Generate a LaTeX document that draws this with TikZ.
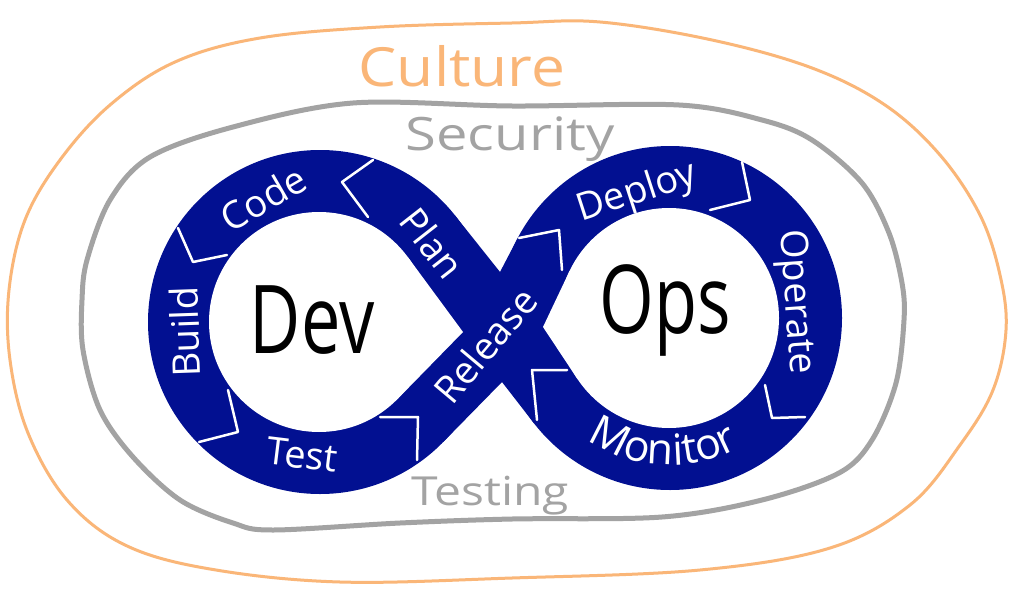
\documentclass[tikz,border=0pt]{standalone}
\usepackage{fontspec}
\setmainfont{Open Sans}
\usetikzlibrary{decorations.text}
\definecolor{devblue}{RGB}{2,16,145}
\definecolor{cultorange}{RGB}{250,182,120}
\definecolor{secgray}{RGB}{163,163,163}
\begin{document}
\begin{tikzpicture}[x=1pt,y=-1pt,
  bandfill/.style={fill=devblue},
  holefill/.style={fill=white},
  chev/.style={draw=white, line width=2.5pt, line join=round, line cap=round},
  lbl/.style={text=white, font=\fontsize{38}{40}\selectfont, inner sep=0pt},
  big/.style={text=black, font=\fontsize{95}{100}\selectfont, inner sep=0pt, xscale=0.74},
  culturering/.style={draw=cultorange, line width=3pt},
  grayring/.style={draw=secgray, line width=5pt},
  ringtext/.style={inner sep=0pt, anchor=base}]
\useasboundingbox (0,0) rectangle (1024,599);
\fill[white] (0,0) rectangle (1024,599);

% outer culture loop
\draw[culturering] plot[smooth cycle, tension=0.6] coordinates {
 (512,23) (600,22) (712,40) (812,68) (885,105) (940,155) (980,215) (1000,275)
 (1006,330) (993,390) (960,445) (910,505) (830,548) (700,570) (512,578)
 (340,582) (210,569) (125,545) (67,500) (28,433) (10,360) (9,290) (25,220)
 (60,160) (110,105) (175,62) (260,38) (380,27)};

% security / testing loop
\draw[grayring] plot[smooth cycle, tension=0.55] coordinates {
 (512,106) (679,105) (762,120) (812,140) (862,183) (889,233) (902,283) (904,320)
 (896,383) (872,440) (839,473) (762,500) (662,517) (512,519) (400,523) (273,530)
 (233,523) (180,500) (133,457) (100,410) (83,350) (82,300) (87,260) (110,200)
 (150,157) (233,127) (353,103)};

% infinity band
\fill[bandfill] (320,322) circle[radius=172];
\fill[bandfill] (670,318) circle[radius=172];
\fill[bandfill] (500,272) -- (454.6,215.0) -- (320,322) -- (442.9,442.3) -- (502,382)
  -- (534.1,423.4) -- (670,318) -- (517.5,238.5) -- cycle;

% inner holes
\fill[holefill] (319,322) circle[radius=110];
\fill[holefill] (407.6,256.8) -- (463,332) -- (397.7,398.8) -- (319,322) -- cycle;
\fill[holefill] (669,318) circle[radius=110];
\fill[holefill] (569.6,270.9) -- (543,327) -- (577.3,378.8) -- (669,318) -- cycle;

% chevrons
\draw[chev] (373,160) -- (342,182) -- (368,217);
\draw[chev] (178,228) -- (193,262) -- (227,255);
\draw[chev] (228,390) -- (238,432) -- (199,442);
\draw[chev] (380,417) -- (418,417) -- (417,460);
\draw[chev] (519,238) -- (559,230) -- (562,270);
\draw[chev] (742,162) -- (750,200) -- (710,210);
\draw[chev] (765,385) -- (772,418) -- (805,417);
\draw[chev] (567,370) -- (532,370) -- (537,420);

% stage labels
\node[lbl, rotate=30] (code) at (263,198) {Code};
\node[lbl, rotate=-52] (plan) at (432,243) {Plan};
\node[lbl, rotate=92] (build) at (185,332) {Build};
\node[lbl, rotate=-7] (test) at (302,455) {Test};
\node[lbl, rotate=50] (release) at (485,345) {Release};
\node[lbl, rotate=18] (deploy) at (637,193) {Deploy};
\node[lbl, rotate=-86] (operate) at (795,302) {Operate};
\path[decorate, decoration={text along path, text align=center,
  text={|\color{white}\fontsize{43}{45}\selectfont|Monitor}}]
  plot[domain=-132:-54, samples=40] ({670+147*cos(\x)},{318-147*sin(\x)});

% centre words
\node[big] (dev) at (312,320) {Dev};
\node[big] (ops) at (665,310) {Ops};

% ring labels
\node[ringtext, text=cultorange, font=\fontsize{54}{56}\selectfont, xscale=1.12] (culture) at (462,87) {Culture};
\node[ringtext, text=secgray, font=\fontsize{46}{48}\selectfont, xscale=1.22] (security) at (510,150) {Security};
\node[ringtext, text=secgray, font=\fontsize{40}{42}\selectfont, xscale=1.2] (testing) at (490,505) {Testing};
\end{tikzpicture}
\end{document}
